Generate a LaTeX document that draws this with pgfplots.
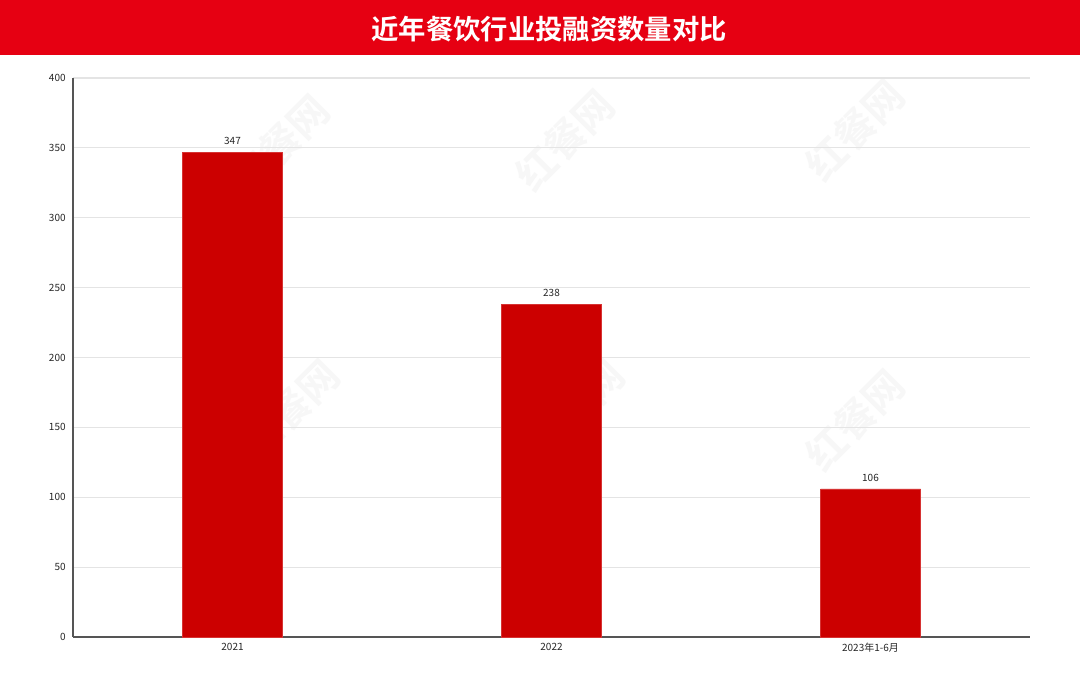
\documentclass[border=0pt]{standalone}
\usepackage{fontspec}
\setmainfont{Noto Sans CJK SC}
\newfontfamily\titlefont{Noto Sans CJK SC Bold}
\usepackage{pgfplots}
\pgfplotsset{compat=1.18}
\definecolor{banner}{HTML}{E60012}
\definecolor{barred}{HTML}{CC0000}
\definecolor{gridc}{HTML}{E4E4E4}
\definecolor{axisc}{HTML}{555555}
\begin{document}
\begin{tikzpicture}[x=0.75pt,y=0.75pt]
% page: 1080 x 673 px
\useasboundingbox (0,0) rectangle (1080,673);
\fill[white] (0,0) rectangle (1080,673);
% faint watermarks
\foreach \px/\py in {280/528,565/533,855/543,290/263,575/263,855/253}
  \node[rotate=45,text=gray!6,font=\titlefont\fontsize{30}{30}\selectfont] at (\px,\py) {红餐网};
\fill[banner] (0,618) rectangle (1080,673);
\node[text=white,font=\titlefont\fontsize{20.5}{24}\selectfont] at (549,644) {近年餐饮行业投融资数量对比};
\begin{axis}[
    at={(54.75pt,27pt)}, anchor=south west,
    scale only axis,
    width=717.75pt, height=419.25pt,
    xmin=-0.5, xmax=2.5,
    ymin=0, ymax=400,
    xtick={0,1,2},
    xticklabels={2021,2022,2023年1-6月},
    ytick={0,50,100,150,200,250,300,350,400},
    ymajorgrids=true,
    grid style={gridc, line width=0.8pt},
    axis x line=bottom, axis y line=left,
    axis line style={axisc, line width=0.9pt, -},
    major tick length=0pt,
    tick label style={font=\fontsize{7.5}{9}\selectfont, text=black!85},
    yticklabel style={xshift=-2pt},
    xticklabel style={yshift=-1pt},
    /pgf/number format/assume math mode=true,
    ybar, bar width=75pt,
    nodes near coords,
    nodes near coords style={font=\fontsize{7.5}{9}\selectfont, text=black!85, yshift=2pt},
    clip=false,
]
\addplot[fill=barred, draw=barred!80!white, line width=0.5pt] coordinates {(0,347) (1,238) (2,106)};
\end{axis}
\end{tikzpicture}
\end{document}
